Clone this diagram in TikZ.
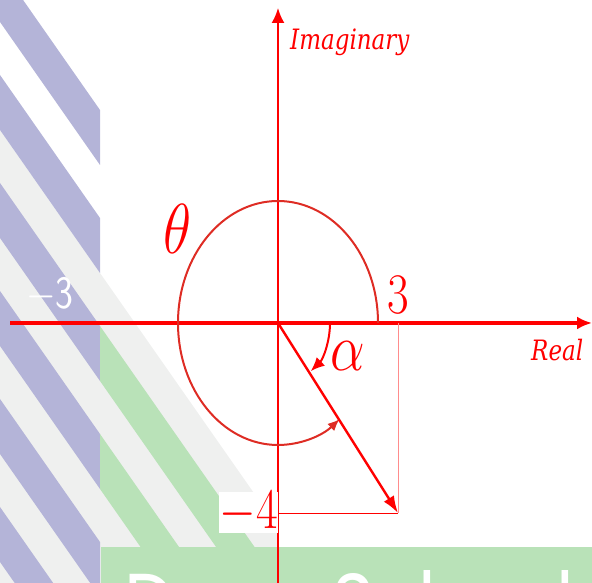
\documentclass[tikz,border=0pt]{standalone}
\usepackage{fix-cm}
\usepackage{fontspec}
\newfontfamily\axisfont{DejaVu Serif}
\newfontfamily\logofont{Poppins}
\usetikzlibrary{arrows.meta}
\definecolor{logopurple}{RGB}{180,180,216}
\definecolor{logogray}{RGB}{239,240,239}
\definecolor{logogreen}{RGB}{185,226,184}
\definecolor{arcred}{RGB}{222,44,36}

\begin{document}
\begin{tikzpicture}[x=1pt, y=1pt,
    axis/.style={red, -{Latex[length=15pt, width=13pt]}},
    vec/.style={red, line width=2.4pt, -{Latex[length=17pt, width=12pt]}},
    guide/.style={line width=0.9pt},
    angle/.style={line width=2pt},
    stretch/.style={yscale=1.22, transform shape},
    label/.style={stretch, red, inner sep=0pt},
    axisname/.style={stretch, red, inner sep=0pt, font=\axisfont\itshape\fontsize{23}{23}\selectfont},
    logo text/.style={stretch, white, inner sep=0pt, font=\logofont\fontsize{72}{72}\selectfont}
]
    \useasboundingbox (0,0) rectangle (592,583);

    % Background logo
    \begin{scope}
        \clip (0,0) rectangle (592,583);
        \fill[logogray] (0,0) -- (0,453) -- (278,55.5) -- (278,0) -- cycle;
        \fill[logopurple] (0,616) -- (0,561) -- (100,418) -- (100,473) -- cycle;
        \fill[logopurple] (0,508) -- (0,453) -- (100,310) -- (100,365) -- cycle;
        \fill[logopurple] (0,400) -- (0,345) -- (100,202) -- (100,257) -- cycle;
        \fill[logopurple] (0,292) -- (0,237) -- (100,94) -- (100,149) -- cycle;
        \fill[logopurple] (0,184) -- (0,129) -- (100,-14) -- (100,41) -- cycle;
        \fill[logopurple] (0,76) -- (0,21) -- (100,-122) -- (100,-67) -- cycle;
        \fill[logogreen] (100,257) -- (100,202) -- (300,-84) -- (300,-29) -- cycle;
        \fill[logogreen] (100,149) -- (100,94) -- (300,-192) -- (300,-137) -- cycle;
        \fill[logogreen] (101,0) rectangle (592,36);
        \node[logo text, anchor=base west] (school) at (124,-53) {Deep School};
    \end{scope}

    % Points
    \coordinate (O) at (278,260);
    \coordinate (P) at (398,70);
    \coordinate (Px) at (398,260);
    \coordinate (Py) at (278,70);
    \coordinate (xl) at (10,260);
    \coordinate (xr) at (592,260);
    \coordinate (yb) at (278,0);
    \coordinate (yt) at (278,575);

    % Axes
    \draw[axis, line width=4pt] (xl) -- (xr);
    \draw[axis, line width=2pt] (yb) -- (yt);

    % Projections
    \draw[guide, red!45] (Px) -- (P);
    \draw[guide, red] (Py) -- (P);

    % Angles
    \draw[angle, arcred, -{Latex[length=12pt, width=10pt]}] (O) ++(100,0)
        arc[start angle=0, end angle=308, x radius=100, y radius=122];
    \draw[angle, red, -{Latex[length=14pt, width=12pt]}] (O) ++(52,0)
        arc[start angle=0, end angle=-51, x radius=52, y radius=62];

    % Vector
    \draw[vec] (O) -- (P);

    % Labels
    \node[label, font=\fontsize{58}{58}\selectfont] (theta) at (178,354) {$\theta$};
    \node[label, font=\fontsize{55}{55}\selectfont] (alpha) at (348,227) {$\alpha$};
    \node[label, font=\fontsize{47}{47}\selectfont] (three) at (398,288) {$3$};
    \node[label, fill=white, font=\fontsize{47}{47}\selectfont] (four) at (248.5,70.5) {$-4$};
    \node[stretch, white, inner sep=0pt, font=\fontsize{38}{38}\selectfont] (mthree) at (50,288) {$\mathsf{-3}$};
    \node[axisname, anchor=base west] (imag) at (290,533) {Imaginary};
    \node[axisname, anchor=base west] (real) at (531,222) {Real};
\end{tikzpicture}
\end{document}
